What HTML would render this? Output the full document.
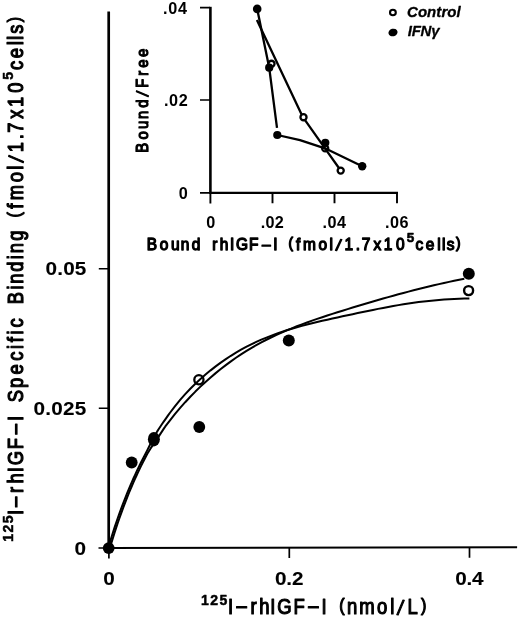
<!DOCTYPE html>
<html>
<head>
<meta charset="utf-8">
<title>Figure</title>
<style>
html,body{margin:0;padding:0;background:#fff;}
svg{display:block;}
text{font-family:"Liberation Sans",sans-serif;fill:#000;stroke-linejoin:round;}
.ax{stroke:#000;fill:none;}
.ax2{stroke:#000;stroke-width:2.1;fill:none;}
.ln{stroke:#000;stroke-width:2.3;fill:none;stroke-linejoin:round;stroke-linecap:butt;}
.cv{stroke:#000;stroke-width:2;fill:none;stroke-linejoin:round;}
.lab{font-size:21.5px;font-weight:normal;stroke:#000;stroke-width:1.2px;}
.ylab{font-size:21.4px;stroke:#000;stroke-width:1.2px;}
.ilab{font-size:16.3px;stroke:#000;stroke-width:1.3px;}
.bf{font-size:17.3px;stroke:#000;stroke-width:1.25px;}
.sup{font-size:13.5px;font-weight:bold;stroke:#000;stroke-width:0.3px;}
.sup2{font-size:13.5px;font-weight:bold;stroke:#000;stroke-width:0.6px;}
.tk{font-size:18px;font-weight:bold;stroke:#000;stroke-width:0.1px;}
.itk{font-size:16.2px;font-weight:bold;}
.leg{font-size:15px;font-weight:bold;font-style:italic;stroke:#000;stroke-width:0.3px;}
.fo{fill:#000;stroke:none;}
.op{stroke:#000;}
</style>
</head>
<body>
<svg width="520" height="618" viewBox="0 0 520 618">
<rect width="520" height="618" fill="#fff"/>
<!-- main axes -->
<path class="ax" stroke-width="2.7" d="M108.7 11.6V548.2"/>
<path class="ax" stroke-width="2.1" d="M107.4 548L517.1 547.2"/>
<path class="ax" stroke-width="1.6" d="M98.8 268.8H108M98.8 408.3H108M98.5 548H108"/>
<path class="ax" stroke-width="1.7" d="M108.9 547.7V558.6M289.3 547.7V558M469.5 547.4V557.8"/>
<!-- main tick labels -->
<g transform="scale(1.15,1.0)"><text class="tk" x="39.55 49.74 54.91 65.1" y="275.2">0.05</text></g>
<g transform="scale(1.15,1.0)"><text class="tk" x="29.03 39.3 44.56 54.83 65.1" y="414.8">0.025</text></g>
<g transform="scale(1.15,1.0)"><text class="tk" x="64.75" y="554.9">0</text></g>
<g transform="scale(1.15,1.0)"><text class="tk" x="89.79" y="585.2">0</text></g>
<g transform="scale(1.15,1.0)"><text class="tk" x="239.11 248.98 253.84" y="585.2">0.2</text></g>
<g transform="scale(1.15,1.0)"><text class="tk" x="395.81 405.58 410.35" y="585.2">0.4</text></g>
<!-- x axis title -->
<text class="sup" x="201.02 210.26 219.5" y="604.8" style="font-size:14px;stroke-width:0.5px">125</text>
<g transform="scale(0.86,1.0)"><text class="lab" x="265.21 274.9 291.29 301.42 314.28 322.54 341.24 358.39 373.93 379.91 394.48 403.37 417.73 438.44 453.71 461.49 473.85 489.61" y="614.4 613.5 614.4 614.4 614.4 614.4 614.4 613.5 614.4 614.4 611.5 614.4 614.4 614.4 614.4 614.4 614.4 611.5" rotate="0 0 0 0 0 0 0 0 0 0 0 0 0 0 0 11 0 0">I–rhIGF–I <tspan font-size="18.81">(</tspan>nmol/L<tspan font-size="18.81">)</tspan></text></g>
<!-- y axis title -->
<g transform="translate(22.9,0) rotate(-90)">
<text class="sup" x="-541.78 -532.49 -523.2" y="-9.9" style="font-size:14px;stroke-width:0.5px">125</text>
<g transform="scale(0.86,1.0)"><text class="ylab" x="-598.96 -589.49 -573.34 -562.22 -549.14 -540.91 -522.39 -504.9 -489.54 -483.6 -467.77 -451.25 -435.41 -419.42 -405.92 -397.85 -388.88 -380.93 -370.23 -353.67 -336.56 -329.98 -315.94 -301.56 -294.51 -279.84 -267.94 -252.95 -242.79 -232.81 -211.82 -197.44 -189.19 -177.06 -161.93 -154.33 -138.2 -124.44 -107.81" y="0 -0.9 0 0 0 0 0 -0.9 0 0 0 0 0 0 0 0 0 0 0 0 0 0 0 0 0 0 0 -2.9 0 0 0 0 0 0 0 0 0 0 0" rotate="0 0 0 0 0 0 0 0 0 0 0 0 0 0 0 0 0 0 0 0 0 0 0 0 0 0 0 0 0 0 0 0 11 0 0 0 0 0 0">I–rhIGF–I Specific Binding <tspan font-size="18.72">(</tspan>fmol/1.7x10</text></g>
<text class="sup" x="-79.76" y="-10.2" style="font-size:14px;stroke-width:0.5px">5</text>
<g transform="scale(0.86,1.0)"><text class="ylab" x="-81.51 -67.73 -52.61 -46.45 -39.27 -25.96" y="0 0 0 0 0 -2.9">cells<tspan font-size="18.72">)</tspan></text></g>
</g>
<!-- main curves -->
<path class="cv" d="M108.43 547.48 L109.99 542.11 L111.55 536.95 L113.11 531.98 L114.68 527.17 L116.24 522.5 L117.8 517.97 L119.36 513.56 L120.92 509.27 L122.48 505.09 L124.04 501.01 L125.61 497.03 L127.17 493.15 L128.73 489.36 L130.29 485.65 L131.85 482.04 L133.41 478.51 L134.98 475.06 L136.54 471.69 L138.1 468.39 L139.66 465.17 L141.22 462.03 L142.79 458.95 L144.35 455.94 L145.9 452.94 L147.46 449.85 L149.02 446.76 L150.58 443.67 L152.14 440.6 L153.78 437.59 L155.43 434.59 L157.09 431.62 L158.75 428.94 L160.4 426.45 L162.05 424.04 L163.7 421.69 L165.32 419.4 L166.88 417.12 L168.44 414.9 L170 412.75 L175.07 406.08 L180.15 399.92 L185.22 394.17 L190.3 388.8 L195.37 383.76 L200.45 379.02 L205.52 374.56 L210.6 370.35 L215.67 366.38 L220.75 362.64 L225.82 359.1 L230.89 355.78 L235.97 352.64 L241.04 349.69 L246.12 346.93 L251.19 344.34 L256.27 341.92 L261.34 339.66 L266.42 337.55 L271.49 335.57 L276.57 333.71 L281.64 331.96 L286.72 330.32 L291.79 328.76 L296.86 327.28 L301.94 325.88 L307.01 324.54 L312.09 323.26 L317.16 322.03 L322.24 320.84 L327.31 319.68 L332.39 318.55 L337.46 317.44 L342.54 316.34 L347.61 315.25 L352.68 314.16 L357.76 313.08 L362.83 312.01 L367.91 310.95 L372.98 309.91 L378.06 308.89 L383.13 307.9 L388.21 306.93 L393.28 306.01 L398.36 305.12 L403.43 304.28 L408.51 303.49 L413.58 302.75 L418.65 302.07 L423.73 301.45 L428.8 300.9 L433.88 300.4 L438.95 299.96 L444.03 299.58 L449.1 299.26 L454.18 298.99 L459.25 298.78 L464.33 298.62 L469.4 298.51"/>
<path class="cv" d="M109.97 547.92 L111.53 542.56 L113.08 537.42 L114.64 532.46 L116.2 527.67 L117.75 523.02 L119.31 518.5 L120.87 514.1 L122.42 509.82 L123.98 505.65 L125.54 501.59 L127.09 497.62 L128.65 493.75 L130.21 489.97 L131.76 486.28 L133.32 482.68 L134.87 479.16 L136.43 475.72 L137.99 472.37 L139.54 469.09 L141.1 465.88 L142.65 462.74 L144.21 459.68 L145.76 456.69 L147.31 453.84 L148.86 451.22 L150.41 448.71 L151.96 446.33 L153.51 444.06 L154.98 441.84 L156.45 439.71 L157.93 437.66 L159.41 435.41 L160.88 433.11 L162.36 430.85 L163.83 428.63 L165.32 426.45 L166.88 424.36 L168.44 422.31 L170 420.29 L175.07 413.94 L180.15 407.93 L185.22 402.21 L190.3 396.77 L195.37 391.58 L200.45 386.64 L205.52 381.93 L210.6 377.43 L215.67 373.13 L220.75 369.02 L225.82 365.1 L230.89 361.35 L235.97 357.77 L241.04 354.37 L246.12 351.13 L251.19 348.05 L256.27 345.14 L261.34 342.37 L266.42 339.74 L271.49 337.24 L276.57 334.86 L281.64 332.58 L286.72 330.4 L291.79 328.3 L296.86 326.29 L301.94 324.35 L307.01 322.48 L312.09 320.67 L317.16 318.91 L322.24 317.19 L327.31 315.52 L332.39 313.88 L337.46 312.27 L342.54 310.69 L347.61 309.12 L352.68 307.57 L357.76 306.03 L362.83 304.5 L367.91 302.99 L372.98 301.5 L378.06 300.03 L383.13 298.58 L388.21 297.14 L393.28 295.73 L398.36 294.33 L403.43 292.97 L408.51 291.62 L413.58 290.3 L418.65 289.01 L423.73 287.74 L428.8 286.5 L433.88 285.29 L438.95 284.12 L444.03 282.97 L449.1 281.86 L454.18 280.78 L459.25 279.74 L464.33 278.74"/>
<!-- main points -->
<circle class="fo" cx="108.7" cy="548.1" r="5.9"/>
<circle class="fo" cx="131.7" cy="462.5" r="5.9"/>
<ellipse class="fo" cx="153.9" cy="439.2" rx="6" ry="7.2"/>
<circle class="op" cx="198.9" cy="379.8" r="4.6" stroke-width="2.3" fill="none"/>
<circle class="fo" cx="199.3" cy="427" r="5.9"/>
<circle class="fo" cx="288.8" cy="340.6" r="6.0"/>
<circle class="op" cx="468.6" cy="290.6" r="4.5" stroke-width="2.4" fill="#fff"/>
<circle class="fo" cx="468.8" cy="273.8" r="6.0"/>
<!-- inset axes -->
<path class="ax" stroke-width="2.6" d="M210.4 6.8V193.8"/>
<path class="ax" stroke-width="2.2" d="M209.2 192.8H398"/>
<path class="ax" stroke-width="1.7" d="M200 7.7H210M200 100H210M200 192.8H210"/>
<path class="ax" stroke-width="1.9" d="M210.4 192.8V203.4M272.5 192.8V203.2M334.5 192.8V203.2M397 192.8V203.2"/>
<!-- inset tick labels -->
<text class="itk" x="163.1 168.28 177.98" y="13.7">.04</text>
<text class="itk" x="164.1 169.12 178.64" y="105.9">.02</text>
<text class="itk" x="178.71" y="198.8">0</text>
<text class="itk" x="206.21" y="227.8">0</text>
<text class="itk" x="260.75 265.52 274.79" y="227.8">.02</text>
<text class="itk" x="322.5 327.48 336.98" y="227.8">.04</text>
<text class="itk" x="384.9 389.88 399.38" y="227.8">.06</text>
<!-- inset titles -->
<g transform="scale(0.95,1.0)"><text class="ilab" x="154.43 168.15 179.9 190.19 201.81 210.87 223.41 231.27 242.1 248.33 262.21 275.79 287.74 292.26 303.65 311.71 319.05 335.36 346.76 353.08 362.72 374.53 380.72 393.18 403.98 416.94" y="250.3 250.3 250.3 250.3 250.3 250.3 250.3 250.3 250.3 250.3 250.3 249.54 250.3 250.3 247.84 250.3 250.3 250.3 250.3 250.3 250.3 250.3 250.3 250.3 250.3 250.3" rotate="0 0 0 0 0 0 0 0 0 0 0 0 0 0 0 0 0 0 0 11 0 0 0 0 0 0">Bound rhIGF–I <tspan font-size="14.26">(</tspan>fmol/1.7x10</text></g>
<text class="sup2" x="406.78" y="242.1">5</text>
<g transform="scale(0.95,1.0)"><text class="ilab" x="437.27 448.17 460.34 465.29 470.26 480.13" y="250.3 250.3 250.3 250.3 250.3 247.84">cells<tspan font-size="14.26">)</tspan></text></g>
<g transform="translate(147.9,0) rotate(-90)">
<g transform="scale(0.86,1.0)"><text class="bf" x="-177.48 -162.19 -150.09 -138.43 -125.43 -112.43 -101.93 -87.96 -78.92 -66.19" y="0 0 0 0 0 0 0 0 0 0" rotate="0 0 0 0 0 11 0 0 0 0">Bound/Free</text></g>
</g>
<!-- inset lines -->
<circle class="op" cx="325.2" cy="148.4" r="3.05" stroke-width="2.3" fill="none"/>
<path class="ln" d="M256.9 20L302.9 117.2L325 148.3L340.7 170.5"/>
<path class="ln" d="M257.2 9L269.2 67.7L277 127.8"/>
<path class="ln" d="M277.3 135L300 140.2L325 148.3L362.2 166.2"/>
<!-- inset points -->
<circle class="op" cx="271.5" cy="63.8" r="3.05" stroke-width="2.3" fill="#fff"/>
<circle class="op" cx="303.5" cy="117.2" r="3.05" stroke-width="2.3" fill="#fff"/>
<circle class="op" cx="340.7" cy="170.6" r="3.05" stroke-width="2.3" fill="#fff"/>
<circle class="fo" cx="257.2" cy="8.9" r="4.3"/>
<circle class="fo" cx="269.2" cy="67.7" r="4.1"/>
<circle class="fo" cx="277.3" cy="135" r="4.1"/>
<circle class="fo" cx="325.3" cy="142.8" r="4.1"/>
<circle class="fo" cx="362.2" cy="166.2" r="4.2"/>
<!-- legend -->
<ellipse cx="392.9" cy="12.5" rx="2.9" ry="2.7" fill="#fff" stroke="#000" stroke-width="2.1"/>
<ellipse class="fo" cx="393" cy="32.5" rx="4.6" ry="3.8" transform="rotate(-15 393 32.5)"/>
<text class="leg" x="406.97 417.88 427.11 436.35 441.42 447.34 456.58" y="17.2">Control</text>
<text class="leg" x="407.74 411.67 420.59 431.18" y="36.3">IFNγ</text>
</svg>
</body>
</html>
